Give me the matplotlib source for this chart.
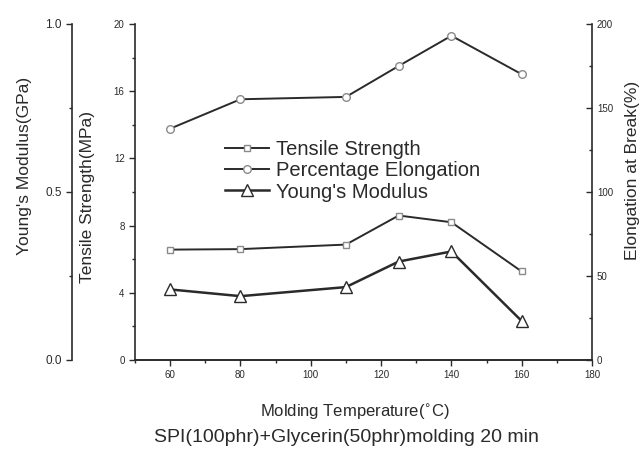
import matplotlib
matplotlib.use("Agg")
import matplotlib.pyplot as plt
from matplotlib.ticker import MultipleLocator

plt.rcParams['font.family'] = ['Liberation Sans', 'DejaVu Sans']

temperature = [60, 80, 110, 125, 140, 160]
tensile_mpa = [6.57, 6.6, 6.87, 8.6, 8.2, 5.27]
elongation_pct = [137.7, 155.2, 156.6, 175.0, 193.0, 170.1]
modulus_gpa = [0.21, 0.19, 0.217, 0.293, 0.323, 0.116]

ink = '#2a2a2a'
mk = '#8a8a8a'

fig = plt.figure(figsize=(6.42, 4.54), dpi=100)
ax = fig.add_axes([135/642, 1-360/454, 457/642, 336/454])
ax2 = ax.twinx()
ax3 = ax.twinx()

l1, = ax.plot(temperature, tensile_mpa, color=ink, lw=1.4, marker='s', ms=5,
              mfc='white', mec=mk, mew=1.0, label='Tensile Strength')
l2, = ax2.plot(temperature, elongation_pct, color=ink, lw=1.4, marker='o', ms=5.5,
               mfc='white', mec=mk, mew=1.0, label='Percentage Elongation')
l3, = ax3.plot(temperature, modulus_gpa, color=ink, lw=1.8, marker='^', ms=9,
               mfc='white', mec=ink, mew=1.0, label="Young's Modulus")

ax.set_xlim(50, 180)
ax.set_ylim(0, 20)
ax2.set_ylim(0, 200)
ax3.set_ylim(0, 1.0)

ax.set_xticks([60, 80, 100, 120, 140, 160, 180])
ax.xaxis.set_minor_locator(MultipleLocator(10))
ax.yaxis.set_major_locator(MultipleLocator(4))
ax.yaxis.set_minor_locator(MultipleLocator(2))
ax2.yaxis.set_major_locator(MultipleLocator(50))
ax2.yaxis.set_minor_locator(MultipleLocator(25))
ax3.yaxis.set_major_locator(MultipleLocator(0.5))
ax3.yaxis.set_minor_locator(MultipleLocator(0.25))

for a in (ax, ax2, ax3):
    a.spines['top'].set_visible(False)
    for s in a.spines.values():
        s.set_color(ink)
        s.set_linewidth(1.2)

ax.spines['right'].set_visible(False)
ax2.spines['left'].set_visible(False)
ax3.spines['right'].set_visible(False)
ax3.spines['bottom'].set_visible(False)
ax3.spines['left'].set_visible(True)
ax3.spines['left'].set_position(('axes', -0.138))
ax3.yaxis.set_ticks_position('left')
ax3.yaxis.set_label_position('left')

ax.tick_params(axis='both', which='major', direction='out', length=4, width=1, colors=ink, labelsize=7)
ax.tick_params(axis='both', which='minor', direction='out', length=2.5, width=1, colors=ink)
ax2.tick_params(axis='y', which='major', direction='in', length=4, width=1, colors=ink, labelsize=7)
ax2.tick_params(axis='y', which='minor', direction='in', length=2.5, width=1, colors=ink)
ax3.tick_params(axis='y', which='major', direction='out', length=4, width=1, colors=ink, labelsize=8.5)
ax3.tick_params(axis='y', which='minor', direction='out', length=2.5, width=1, colors=ink)
ax3.yaxis.set_major_formatter(plt.FormatStrFormatter('%.1f'))

ax.set_ylabel('Tensile Strength(MPa)', fontsize=12.5, color=ink, va='center')
ax.yaxis.set_label_coords(-0.103, 0.485)
ax2.set_ylabel('Elongation at Break(%)', fontsize=12.5, color=ink, va='center')
ax2.yaxis.set_label_coords(1.088, 0.565)
ax3.set_ylabel("Young's Modulus(GPa)", fontsize=12.5, color=ink, va='center')
ax3.yaxis.set_label_coords(-0.241, 0.577)
ax.set_xlabel('Molding Temperature($^{\\circ}$C)', fontsize=12, color=ink, va='center')
ax.xaxis.set_label_coords(0.481, -0.155)

fig.text(346/642, 1-438/454, 'SPI(100phr)+Glycerin(50phr)molding 20 min',
         ha='center', va='center', fontsize=14, color=ink)

leg = ax.legend(handles=[l1, l2, l3], loc='center left', bbox_to_anchor=(0.197, 0.5625),
                frameon=False, fontsize=14.5, handlelength=2.2, handletextpad=0.35,
                labelspacing=0.1, borderpad=0, borderaxespad=0)
for t in leg.get_texts():
    t.set_color(ink)

fig.savefig('out.png', dpi=100)
